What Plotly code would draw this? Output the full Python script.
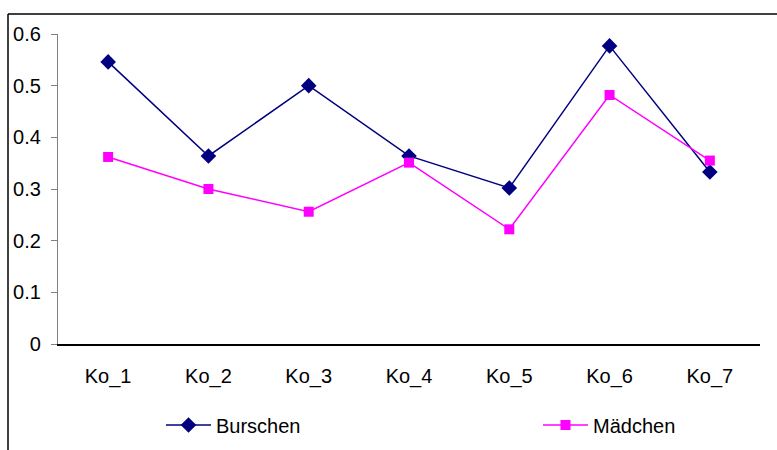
import plotly.graph_objects as go

categories = ["Ko_1", "Ko_2", "Ko_3", "Ko_4", "Ko_5", "Ko_6", "Ko_7"]
burschen = [0.546, 0.364, 0.500, 0.364, 0.302, 0.577, 0.333]
maedchen = [0.362, 0.300, 0.256, 0.351, 0.222, 0.482, 0.355]
y_ticks = [0, 0.1, 0.2, 0.3, 0.4, 0.5, 0.6]
y_tick_labels = ["0", "0.1", "0.2", "0.3", "0.4", "0.5", "0.6"]

FONT = "Liberation Sans, Arial, sans-serif"

fig = go.Figure()
fig.add_trace(go.Scatter(
    x=categories, y=burschen, name="Burschen", mode="lines+markers",
    line=dict(color="#000080", width=1.5),
    marker=dict(symbol="diamond", size=12, color="#000080"),
    legend="legend",
))
fig.add_trace(go.Scatter(
    x=categories, y=maedchen, name="Mädchen", mode="lines+markers",
    line=dict(color="#FF00FF", width=1.5),
    marker=dict(symbol="square", size=10, color="#FF00FF"),
    legend="legend2",
))

L, R, T, B = 58, 17, 34, 106
W, H = 777, 450
pw, ph = W - L - R, H - T - B

def px(x):
    return (x - L) / pw

def py(y):
    return (H - B - y) / ph

legend_common = dict(
    orientation="h", xanchor="left", yanchor="middle",
    font=dict(family=FONT, size=20, color="black"),
    bgcolor="rgba(0,0,0,0)", borderwidth=0, itemwidth=45,
)

fig.update_layout(
    width=W, height=H,
    margin=dict(l=L, r=R, t=T, b=B, pad=0, autoexpand=False),
    paper_bgcolor="white", plot_bgcolor="white",
    font=dict(family=FONT, size=20, color="black"),
    showlegend=True,
    legend=dict(x=px(161), y=py(425), **legend_common),
    legend2=dict(x=px(538), y=py(425), **legend_common),
    xaxis=dict(
        type="category", showgrid=False, zeroline=False,
        showline=True, linecolor="black", linewidth=1.5,
        ticks="", ticklabelstandoff=13,
        range=[-0.5, 6.5], fixedrange=True,
    ),
    yaxis=dict(
        range=[0, 0.6], tickvals=y_ticks, ticktext=y_tick_labels,
        showgrid=False, zeroline=False,
        showline=True, linecolor="#808080", linewidth=1.2,
        ticks="outside", ticklen=6, tickcolor="#808080", tickwidth=1.2,
        ticklabelstandoff=6,
    ),
    shapes=[
        dict(type="line", xref="paper", yref="paper",
             x0=px(8), x1=px(8), y0=py(14), y1=py(470),
             line=dict(color="black", width=1.5)),
        dict(type="line", xref="paper", yref="paper",
             x0=px(8), x1=px(800), y0=py(14), y1=py(14),
             line=dict(color="black", width=1.5)),
    ],
)

fig.write_html(
    "out.html",
    config={"displayModeBar": False},
    post_script="document.body.style.margin='0';document.body.style.overflow='hidden';",
)
